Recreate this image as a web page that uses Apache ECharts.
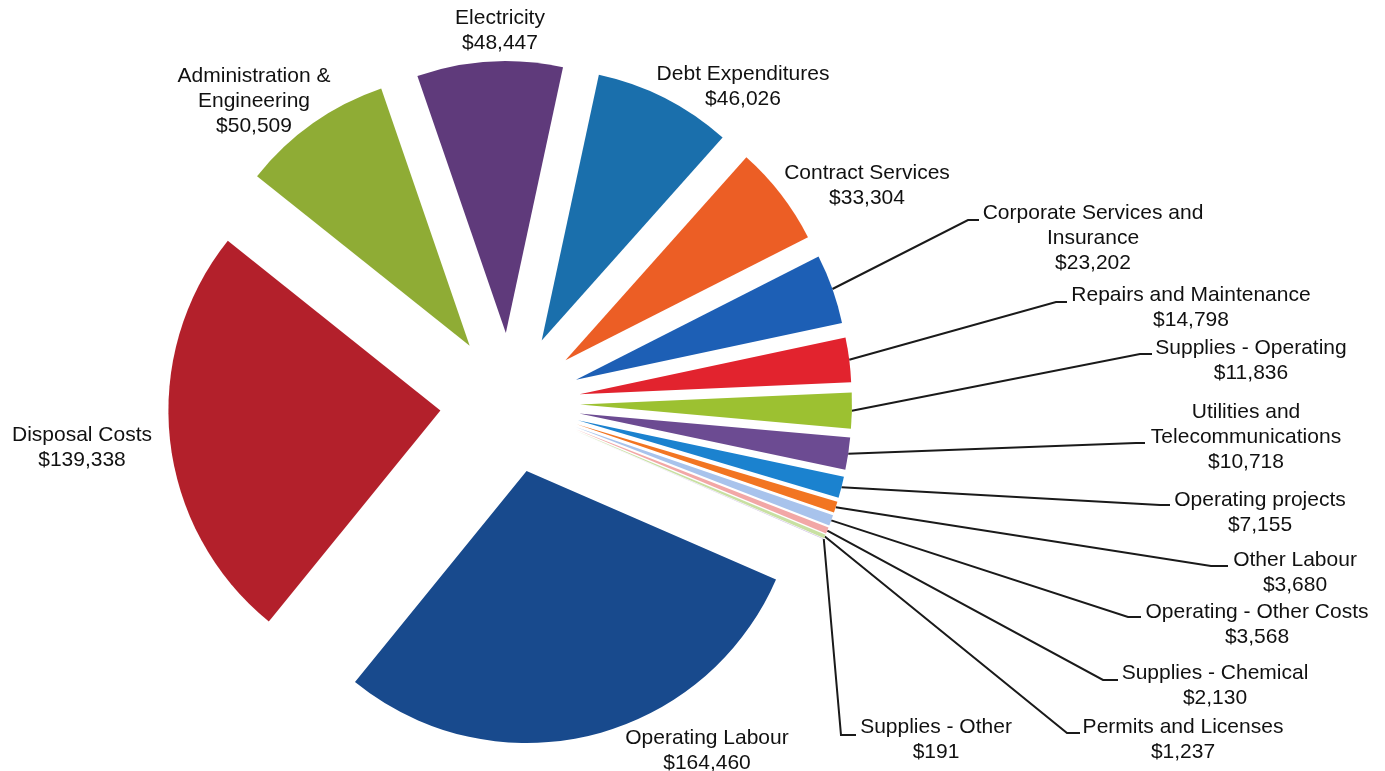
<!DOCTYPE html>
<html>
<head>
<meta charset="utf-8">
<script src="https://cdn.jsdelivr.net/npm/echarts@6/dist/echarts.min.js"></script>
<style>
html,body{margin:0;padding:0;background:#ffffff;}
#chart{width:1385px;height:771px;}
</style>
</head>
<body>
<div id="chart"></div>
<script>
// ---- data ----
const categories = [
  'Operating Labour', 'Disposal Costs', 'Administration &\nEngineering', 'Electricity',
  'Debt Expenditures', 'Contract Services', 'Corporate Services and\nInsurance',
  'Repairs and Maintenance', 'Supplies - Operating', 'Utilities and\nTelecommunications',
  'Operating projects', 'Other Labour', 'Operating - Other Costs', 'Supplies - Chemical',
  'Permits and Licenses', 'Supplies - Other'
];
const values = [164460, 139338, 50509, 48447, 46026, 33304, 23202, 14798, 11836, 10718, 7155, 3680, 3568, 2130, 1237, 191];

// ---- styling / layout (not data) ----
const colors = ['#184a8d', '#b3202b', '#8fac35', '#5f3a7b', '#1a6fac', '#ec5e25', '#1d5fb5', '#e2232e',
  '#9cc131', '#6c4b92', '#1b82cf', '#f27522', '#a8c3ec', '#f2a7a6', '#c8e0a2', '#c7b8dc'];
const labelCenters = [[707,738],[82,435],[254,76],[500,18],[743,74],[867,173],[1093,213],[1191,295],
  [1251,348],[1246,412],[1260,500],[1295,560],[1257,612],[1215,673],[1183,727],[936,727]];
const leaders = [null,null,null,null,null,null,[968,220,979],[1056,302,1067],[1140,354,1152],
  [1136,443,1145],[1160,505,1170],[1211,566,1228],[1128,617,1141],[1103,680,1118],[1067,733,1080],[841,735,856]];
const CENTER = [510, 403];
const R = 272;
const OFFSET = 70;
const START = 336.5;
const LH = 25;

const sliceData = categories.map((n, i) => ({
  name: n, value: values[i], selected: true, itemStyle: { color: colors[i] }
}));
const labelData = categories.map((n, i) => ({
  name: n, value: values[i], labelLine: { show: !!leaders[i] }
}));

const chart = echarts.init(document.getElementById('chart'), null, { renderer: 'canvas' });
chart.setOption({
  animation: false,
  backgroundColor: '#ffffff',
  series: [
    {
      type: 'pie',
      center: CENTER,
      radius: R,
      startAngle: START,
      clockwise: true,
      selectedMode: 'multiple',
      selectedOffset: OFFSET,
      avoidLabelOverlap: false,
      label: { show: false },
      labelLine: { show: false },
      emphasis: { disabled: true },
      itemStyle: { borderWidth: 0 },
      data: sliceData
    },
    {
      type: 'pie',
      center: CENTER,
      radius: R + OFFSET,
      startAngle: START,
      clockwise: true,
      silent: true,
      avoidLabelOverlap: false,
      itemStyle: { color: 'rgba(0,0,0,0)', borderWidth: 0 },
      emphasis: { disabled: true },
      label: {
        show: true,
        position: 'outside',
        overflow: 'none',
        fontFamily: 'Liberation Sans, Arial, sans-serif',
        fontSize: 21,
        lineHeight: LH,
        color: '#111111',
        align: 'center',
        formatter: p => p.name + '\n$' + p.value.toLocaleString('en-US')
      },
      labelLine: { show: true, lineStyle: { color: '#1a1a1a', width: 2 } },
      labelLayout: function (params) {
        const i = params.dataIndex;
        const lc = labelCenters[i];
        const res = { x: lc[0], y: lc[1] - LH / 2, align: 'center', verticalAlign: 'top' };
        const ld = leaders[i];
        if (ld && params.labelLinePoints) {
          const p0 = params.labelLinePoints[0];
          res.labelLinePoints = [[p0[0], p0[1]], [ld[0], ld[1]], [ld[2], ld[1]]];
        }
        return res;
      },
      data: labelData
    }
  ]
});
</script>
</body>
</html>
